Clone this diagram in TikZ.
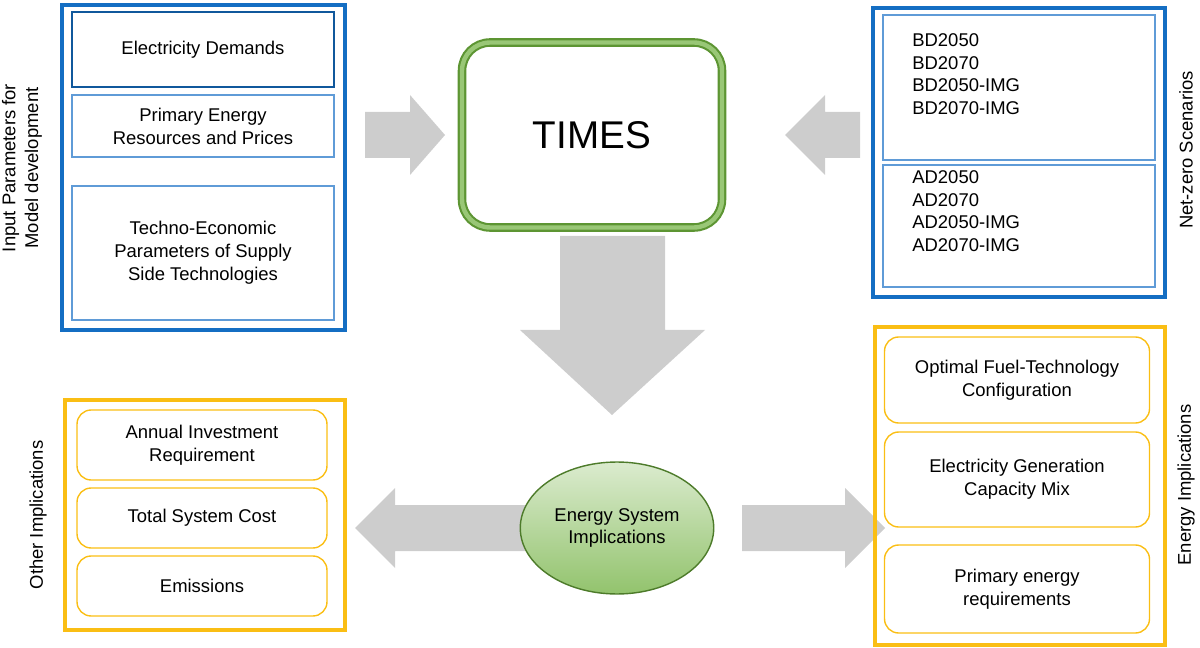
\documentclass[tikz,border=0pt]{standalone}
\usepackage{fontspec}
\setmainfont{Liberation Sans}
\usetikzlibrary{shapes.geometric,positioning}
\definecolor{boxblue}{RGB}{20,110,195}
\definecolor{liteblue}{RGB}{95,155,215}
\definecolor{boxorange}{RGB}{250,190,20}
\definecolor{timesgreen}{RGB}{110,175,60}
\definecolor{arrowgrey}{RGB}{205,205,205}
\tikzset{
  outer/.style={draw=#1,line width=2.2pt},
  inner/.style={draw=#1,line width=0.8pt,align=center,font=\fontsize{10.5}{13}\selectfont},
  side/.style={rotate=90,align=center,font=\fontsize{10.5}{13}\selectfont},
  bigarrow/.style={fill=arrowgrey,draw=none},
  list/.style={align=left,font=\fontsize{10.5}{13}\selectfont,inner sep=0pt,anchor=north west}
}
\begin{document}
\begin{tikzpicture}[x=0.02cm,y=-0.02cm]
  \useasboundingbox (0,0) rectangle (1200,648);
  % grey arrows
  \fill[bigarrow] (365,112) -- (410,112) -- (410,95) -- (445,135) -- (410,175) -- (410,158) -- (365,158) -- cycle;
  \fill[bigarrow] (860,112) -- (825,112) -- (825,95) -- (785,135) -- (825,175) -- (825,158) -- (860,158) -- cycle;
  \fill[bigarrow] (560,236) -- (665,236) -- (665,330) -- (705,330) -- (612,415) -- (520,330) -- (560,330) -- cycle;
  \fill[bigarrow] (540,505) -- (395,505) -- (395,488) -- (355,528) -- (395,568) -- (395,551) -- (540,551) -- cycle;
  \fill[bigarrow] (742,505) -- (845,505) -- (845,488) -- (885,528) -- (845,568) -- (845,551) -- (742,551) -- cycle;
  % input parameters
  \draw[outer=boxblue] (62,5) rectangle (345,330);
  \node[inner=boxblue!80!black,minimum width=5.24cm,minimum height=1.5cm] (dem) at (203,49.5) {Electricity Demands};
  \node[inner=liteblue,minimum width=5.24cm,minimum height=1.24cm] (res) at (203,126) {Primary Energy\\Resources and Prices};
  \node[inner=liteblue,minimum width=5.24cm,minimum height=2.68cm] (tech) at (203,253) {Techno-Economic\\Parameters of Supply\\Side Technologies};
  \node[side] (inlab) at (22,168) {Input Parameters for\\Model development};
  % scenarios
  \draw[outer=boxblue] (873,8) rectangle (1165,297);
  \draw[liteblue,line width=0.8pt] (883,15) rectangle (1155,160);
  \draw[liteblue,line width=0.8pt] (883,165) rectangle (1155,287);
  \node[list] (bd) at (912,33) {BD2050\\BD2070\\BD2050-IMG\\BD2070-IMG};
  \node[list] (ad) at (912,170) {AD2050\\AD2070\\AD2050-IMG\\AD2070-IMG};
  \node[side] (nzlab) at (1186,150) {Net-zero Scenarios};
  % TIMES
  \node[draw=timesgreen!85!black,line width=1.2pt,rounded corners=16pt,double=timesgreen!70,double distance=2.5pt,fill=white,
        minimum width=5.2cm,minimum height=3.7cm,font=\fontsize{22}{26}\selectfont] (times) at (592,135) {TIMES};
  % ellipse
  \node[ellipse,draw=timesgreen!70!black,line width=0.8pt,top color=timesgreen!25,bottom color=timesgreen!75,
        minimum width=3.1cm,minimum height=2.64cm,align=center,font=\fontsize{10.5}{13}\selectfont] (esi) at (617,528) {Energy System\\Implications};
  % other implications
  \draw[outer=boxorange] (65,400) rectangle (345,630);
  \node[inner=boxorange,rounded corners=8pt,minimum width=5cm,minimum height=1.4cm] (inv) at (202,445) {Annual Investment\\Requirement};
  \node[inner=boxorange,rounded corners=8pt,minimum width=5cm,minimum height=1.2cm] (cost) at (202,518) {Total System Cost};
  \node[inner=boxorange,rounded corners=8pt,minimum width=5cm,minimum height=1.2cm] (emi) at (202,586) {Emissions};
  \node[side] (olab) at (38,515) {Other Implications};
  % energy implications
  \draw[outer=boxorange] (875,327) rectangle (1165,645);
  \node[inner=boxorange,rounded corners=8pt,minimum width=5.3cm,minimum height=1.72cm] (fuel) at (1017,380) {Optimal Fuel-Technology\\Configuration};
  \node[inner=boxorange,rounded corners=8pt,minimum width=5.3cm,minimum height=1.9cm] (cap) at (1017,479.5) {Electricity Generation\\Capacity Mix};
  \node[inner=boxorange,rounded corners=8pt,minimum width=5.3cm,minimum height=1.76cm] (prim) at (1017,589) {Primary energy\\requirements};
  \node[side] (elab) at (1186,485) {Energy Implications};
\end{tikzpicture}
\end{document}
